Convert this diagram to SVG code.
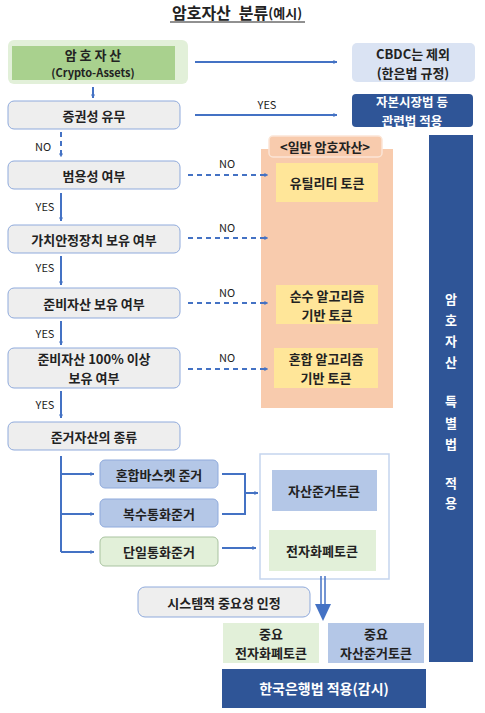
<svg xmlns="http://www.w3.org/2000/svg" width="485" height="713" viewBox="0 0 485 713">
<defs>
<marker id="ah" viewBox="0 0 10 10" refX="9" refY="5" markerWidth="4" markerHeight="4" orient="auto" markerUnits="userSpaceOnUse">
<path d="M0,0 L10,5 L0,10 z" fill="#4472c4"/>
</marker>
</defs>
<style>
text{font-family:"Noto Sans CJK KR","Noto Sans",sans-serif;font-weight:bold;text-anchor:middle;dominant-baseline:central;fill:#222}
.s{font-size:13px}
.lab{font-size:11px;font-weight:normal;fill:#222}
.w{fill:#fff}
.gray{fill:#eeeeee;stroke:#8faadc;stroke-width:1}
.ln{stroke:#4472c4;stroke-width:2;fill:none}
.dash{stroke:#4472c4;stroke-width:2;fill:none;stroke-dasharray:5,4}
.blue{fill:#b4c7e7;stroke:#8faadc;stroke-width:1}
.green{fill:#e2f0d9;stroke:#a9c3a0;stroke-width:1}
.yel{fill:#ffe699}
.dark{fill:#2f5597}
</style>
<rect width="485" height="713" fill="#fff"/>
<g id="title">
<text x="237" y="12" style="font-size:16px">암호자산<tspan dx="8">분류</tspan><tspan style="font-size:13px">(예시)</tspan></text>
<line x1="170" y1="22" x2="305" y2="22" stroke="#222" stroke-width="1"/>
</g>
<g id="crypto">
<rect x="8" y="40" width="180" height="44" rx="6" fill="#e2f0d9"/>
<rect x="12" y="46" width="163" height="34" fill="#a9d18e"/>
<text x="93" y="54" class="s">암 호 자 산</text>
<text x="93" y="72" style="font-size:11px">(Crypto-Assets)</text>
</g>
<g id="cbdc">
<rect x="352" y="43" width="123" height="39" rx="5" fill="#dae3f3"/>
<text x="413" y="53" class="s">CBDC는 제외</text>
<text x="413" y="72" class="s">(한은법 규정)</text>
</g>
<g id="securities">
<rect x="8" y="101" width="172" height="28" rx="6" class="gray"/>
<text x="94" y="115" class="s">증권성 유무</text>
</g>
<g id="capital">
<rect x="352" y="94" width="121" height="33" rx="4" class="dark"/>
<text x="412" y="101.5" class="w" style="font-size:12.5px">자본시장법 등</text>
<text x="412" y="120" class="w" style="font-size:12.5px">관련법 적용</text>
</g>
<g id="general">
<rect x="261" y="149" width="132" height="259" fill="#f8cbad"/>
<rect x="269" y="136" width="113" height="21" rx="4" fill="#f8cbad" stroke="#fbe5d6" stroke-width="1.5"/>
<text x="325" y="146" class="s">&lt;일반 암호자산&gt;</text>
</g>
<g id="utility">
<rect x="276" y="163" width="102" height="39" class="yel"/>
<text x="327" y="182" class="s">유틸리티 토큰</text>
</g>
<g id="pure">
<rect x="276" y="285" width="102" height="39" class="yel"/>
<text x="327" y="295" class="s">순수 알고리즘</text>
<text x="327" y="314" class="s">기반 토큰</text>
</g>
<g id="hybrid">
<rect x="274" y="348" width="104" height="40" class="yel"/>
<text x="326" y="358.5" class="s">혼합 알고리즘</text>
<text x="326" y="377.5" class="s">기반 토큰</text>
</g>
<g id="general-use">
<rect x="8" y="161" width="172" height="28" rx="6" class="gray"/>
<text x="94" y="175" class="s">범용성 여부</text>
</g>
<g id="stabilizer">
<rect x="8" y="225" width="172" height="28" rx="6" class="gray"/>
<text x="94" y="239" class="s">가치안정장치 보유 여부</text>
</g>
<g id="reserve">
<rect x="8" y="288" width="172" height="30" rx="6" class="gray"/>
<text x="94" y="303" class="s">준비자산 보유 여부</text>
</g>
<g id="reserve100">
<rect x="8" y="348" width="172" height="40" rx="6" class="gray"/>
<text x="94" y="358.5" class="s">준비자산 100% 이상</text>
<text x="94" y="377.5" class="s">보유 여부</text>
</g>
<g id="reference-asset">
<rect x="8" y="422" width="172" height="28" rx="6" class="gray"/>
<text x="94" y="436" class="s">준거자산의 종류</text>
</g>
<g id="basket">
<rect x="100" y="460" width="118" height="28" rx="5" class="blue"/>
<text x="159" y="474" class="s">혼합바스켓 준거</text>
</g>
<g id="multi">
<rect x="100" y="499" width="118" height="28" rx="5" class="blue"/>
<text x="159" y="513" class="s">복수통화준거</text>
</g>
<g id="single">
<rect x="100" y="537" width="118" height="29" rx="5" class="green"/>
<text x="159" y="551" class="s">단일통화준거</text>
</g>
<g id="token-group">
<rect x="260" y="454" width="129" height="125" fill="#fff" stroke="#c5d5ee" stroke-width="1.5"/>
</g>
<g id="asset-token">
<rect x="272" y="470" width="105" height="41" fill="#b4c7e7"/>
<text x="324" y="490" class="s">자산준거토큰</text>
</g>
<g id="emoney-token">
<rect x="269" y="530" width="107" height="41" fill="#e2f0d9"/>
<text x="322" y="550" class="s">전자화폐토큰</text>
</g>
<g id="systemic">
<rect x="138" y="587" width="172" height="30" rx="7" class="gray"/>
<text x="224" y="602" class="s">시스템적 중요성 인정</text>
</g>
<g id="key-emoney">
<rect x="223" y="623" width="96" height="40" fill="#e2f0d9"/>
<text x="271" y="633.5" class="s">중요</text>
<text x="271" y="652.5" class="s">전자화폐토큰</text>
</g>
<g id="key-asset">
<rect x="328" y="623" width="96" height="40" fill="#b4c7e7"/>
<text x="376" y="633.5" class="s">중요</text>
<text x="376" y="652.5" class="s">자산준거토큰</text>
</g>
<g id="bok">
<rect x="222" y="669" width="204" height="39" class="dark"/>
<text x="324" y="688" class="w" style="font-size:14px">한국은행법 적용(감시)</text>
</g>
<g id="special-law">
<rect x="429" y="135" width="44" height="527" class="dark"/>
<text x="451" y="298" class="s w">암</text>
<text x="451" y="319" class="s w">호</text>
<text x="451" y="340" class="s w">자</text>
<text x="451" y="361" class="s w">산</text>
<text x="451" y="400" class="s w">특</text>
<text x="451" y="422" class="s w">별</text>
<text x="451" y="443" class="s w">법</text>
<text x="451" y="482" class="s w">적</text>
<text x="451" y="502" class="s w">용</text>
</g>
<g id="connectors">
<line x1="195" y1="62" x2="337" y2="62" class="ln" marker-end="url(#ah)"/>
<line x1="93" y1="87" x2="93" y2="98" class="ln" marker-end="url(#ah)"/>
<line x1="195" y1="115" x2="337" y2="115" class="ln" marker-end="url(#ah)"/>
<text x="267" y="104" class="lab">YES</text>
<line x1="61" y1="132" x2="61" y2="157" class="dash" marker-end="url(#ah)"/>
<text x="43" y="146" class="lab">NO</text>
<line x1="188" y1="175" x2="268" y2="175" class="dash" marker-end="url(#ah)"/>
<text x="227" y="163" class="lab">NO</text>
<line x1="61" y1="193" x2="61" y2="221" class="ln" marker-end="url(#ah)"/>
<text x="45" y="206" class="lab">YES</text>
<line x1="188" y1="238" x2="268" y2="238" class="dash" marker-end="url(#ah)"/>
<text x="227" y="227" class="lab">NO</text>
<line x1="61" y1="256" x2="61" y2="285" class="ln" marker-end="url(#ah)"/>
<text x="45" y="267" class="lab">YES</text>
<line x1="188" y1="303" x2="268" y2="303" class="dash" marker-end="url(#ah)"/>
<text x="227" y="292" class="lab">NO</text>
<line x1="61" y1="321" x2="61" y2="345" class="ln" marker-end="url(#ah)"/>
<text x="45" y="333" class="lab">YES</text>
<line x1="188" y1="369" x2="268" y2="369" class="dash" marker-end="url(#ah)"/>
<text x="227" y="357" class="lab">NO</text>
<line x1="61" y1="391" x2="61" y2="418" class="ln" marker-end="url(#ah)"/>
<text x="45" y="404" class="lab">YES</text>
<path d="M61,456 V552" class="ln"/>
<line x1="61" y1="474" x2="94" y2="474" class="ln" marker-end="url(#ah)"/>
<line x1="61" y1="514" x2="94" y2="514" class="ln" marker-end="url(#ah)"/>
<line x1="61" y1="552" x2="94" y2="552" class="ln" marker-end="url(#ah)"/>
<path d="M222,474 H245 V514 H222" class="ln"/>
<line x1="245" y1="493" x2="258" y2="493" class="ln" marker-end="url(#ah)"/>
<line x1="222" y1="548" x2="256" y2="548" class="ln" marker-end="url(#ah)"/>
<line x1="321" y1="576" x2="321" y2="605" stroke="#4472c4" stroke-width="1.5"/>
<line x1="325" y1="576" x2="325" y2="605" stroke="#4472c4" stroke-width="1.5"/>
<path d="M315,604 L331,604 L323,621 z" fill="#4472c4"/>
</g>
</svg>
